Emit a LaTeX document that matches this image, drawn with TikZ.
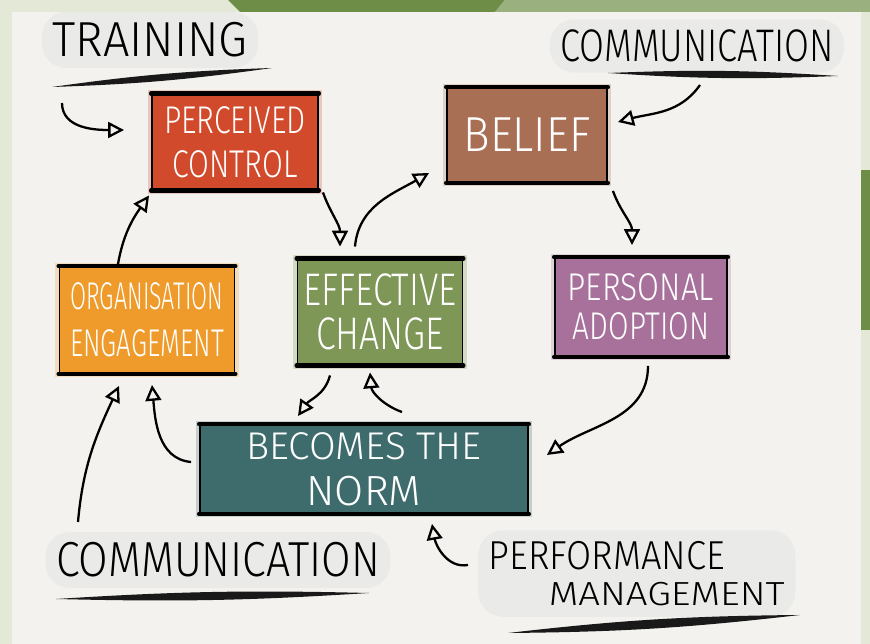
\documentclass[tikz,border=0pt]{standalone}
\usepackage{fontspec}
\setmainfont{Fira Sans Light}
\usepackage{graphicx}
\usetikzlibrary{arrows.meta,calc}
\definecolor{paper}{HTML}{F3F2EE}
\definecolor{outerbg}{HTML}{E3E9D6}
\definecolor{topgreen}{HTML}{6E8E48}
\definecolor{cpc}{HTML}{D24A2C}
\definecolor{cbel}{HTML}{A86F55}
\definecolor{coe}{HTML}{EE9B2C}
\definecolor{cec}{HTML}{7E9656}
\definecolor{cpa}{HTML}{A7719B}
\definecolor{cbn}{HTML}{3E6C6C}
\newcommand{\hs}[2]{\scalebox{#1}[1]{#2}}
\newcommand{\brush}[3]{\fill[black!90] #1 to[bend left=#3] #2 to[bend left=#3] #1;}
\begin{document}
\begin{tikzpicture}[x=0.02cm,y=-0.02cm,
  boxbase/.style={draw=black, line width=1.1pt, text=white, inner sep=0pt, align=center, font=\fontsize{22}{25}\selectfont},
  halo/.style={preaction={draw=#1, line width=5pt, draw opacity=.25}},
  boxrule/.style={line width=2.4pt, line cap=round},
  arr/.style={line width=1.3pt, -{Triangle[open, length=9pt, width=9pt, line width=1.3pt]}},
  lbl/.style={fill=black!9, fill opacity=.8, text opacity=1, rounded corners=14pt, inner sep=6pt},
]
\useasboundingbox (0,0) rectangle (870,644);
% background
\fill[outerbg] (0,0) rectangle (870,644);
\fill[paper] (12,12) rectangle (861,644);
\fill[topgreen] (228,0) -- (505,0) -- (495,12) -- (240,12) -- cycle;
\fill[topgreen!70] (505,0) -- (870,0) -- (870,12) -- (495,12) -- cycle;
\fill[topgreen] (861,170) rectangle (870,330);

% labels
\node[lbl, font=\fontsize{28}{30}\selectfont] (tr) at (150,40) {\hs{.95}{TRAINING}};
\node[lbl, font=\fontsize{26}{28}\selectfont] (ct) at (697,46) {\hs{.79}{COMMUNICATION}};
\node[lbl, font=\fontsize{28}{30}\selectfont] (cb) at (218,560) {\hs{.87}{COMMUNICATION}};
\node[lbl, anchor=north west, align=left, font=\fontsize{23}{15}\selectfont] (perf) at (478,530)
  {\hs{.9}{PERFORMANCE}\\[6pt]\hspace*{1.2cm}{\fontsize{19}{15}\selectfont\hs{1.15}{MANAGEMENT}}};

% underlines
\coordinate (u1a) at (52,87);  \coordinate (u1b) at (272,68);
\coordinate (u2a) at (608,73); \coordinate (u2b) at (838,76);
\coordinate (u3a) at (56,599); \coordinate (u3b) at (369,593);
\coordinate (u4a) at (508,633);\coordinate (u4b) at (800,615);
\brush{(u1a)}{(u1b)}{3}
\brush{(u2a)}{(u2b)}{3}
\brush{(u3a)}{(u3b)}{2.5}
\brush{(u4a)}{(u4b)}{3}

% boxes
\node[boxbase, fill=cpc, halo=cpc, minimum width=3.32cm, minimum height=1.9cm] (pc) at (235,142)
  {\hs{.78}{PERCEIVED}\\\hs{.78}{CONTROL}};
\node[boxbase, fill=cbel, halo=cbel, minimum width=3.2cm, minimum height=1.88cm, font=\fontsize{28}{30}\selectfont] (bel) at (527,135)
  {\hs{.9}{BELIEF}};
\node[boxbase, fill=coe, halo=coe, minimum width=3.5cm, minimum height=2.12cm, font=\fontsize{22}{27}\selectfont] (oe) at (147,320)
  {\hs{.6}{ORGANISATION}\\\hs{.67}{ENGAGEMENT}};
\node[boxbase, fill=cec, halo=cec, minimum width=3.3cm, minimum height=2.1cm, font=\fontsize{26}{25}\selectfont] (ec) at (380,312)
  {\hs{.77}{EFFECTIVE}\\\hs{.78}{CHANGE}};
\node[boxbase, fill=cpa, halo=cpa, minimum width=3.44cm, minimum height=1.96cm, font=\fontsize{22}{22}\selectfont] (pa) at (641,307)
  {\hs{.82}{PERSONAL}\\\hs{.77}{ADOPTION}};
\node[boxbase, fill=cbn, halo=cbn, minimum width=6.56cm, minimum height=1.76cm, font=\fontsize{22}{21}\selectfont] (bn) at (364,469)
  {BECOMES THE\\[5pt]{\fontsize{24}{21}\selectfont NORM}};
\foreach \n in {pc,bel,oe,ec,pa,bn}{
  \draw[boxrule] (\n.north west) -- (\n.north east);
  \draw[boxrule] (\n.south west) -- (\n.south east);
}

% free ends
\coordinate (t1) at (62,103);
\coordinate (c2) at (700,85);
\coordinate (c3) at (78,522);
\coordinate (c4) at (468,565);

% connectors
\draw[arr] (t1) to[out=-90,in=180] ([shift={(-27,-12)}]pc.west);
\draw[arr] ([shift={(-29,-2)}]oe.north) to[out=80,in=-125] ([shift={(-2,5)}]pc.south west);
\draw[arr] ([shift={(4,2)}]pc.south east) to[out=-70,in=90] ([shift={(-40,-12)}]ec.north);
\draw[arr] ([shift={(-25,-12)}]ec.north) to[out=85,in=210] ([shift={(-17,-10)}]bel.south west);
\draw[arr] (c2) to[out=-125,in=15] ([shift={(10,-13)}]bel.east);
\draw[arr] ([shift={(5,8)}]bel.south east) to[out=-70,in=90] ([shift={(-9,-12)}]pa.north);
\draw[arr] ([shift={(7,9)}]pa.south) to[out=-90,in=35] ([shift={(18,-14)}]bn.east);
\draw[arr] ([shift={(-50,10)}]ec.south) to[out=-105,in=55] ([shift={(-66,-8)}]bn.north);
\draw[arr] ([shift={(38,-12)}]bn.north) to[out=160,in=-85] ([shift={(-10,7)}]ec.south);
\draw[arr] ([shift={(-8,-7)}]bn.west) to[out=175,in=-85] ([shift={(5,11)}]oe.south);
\draw[arr] (c3) to[out=85,in=-115] ([shift={(-28,12)}]oe.south);
\draw[arr] (c4) to[out=190,in=-80] ([shift={(68,10)}]bn.south);
\end{tikzpicture}
\end{document}
